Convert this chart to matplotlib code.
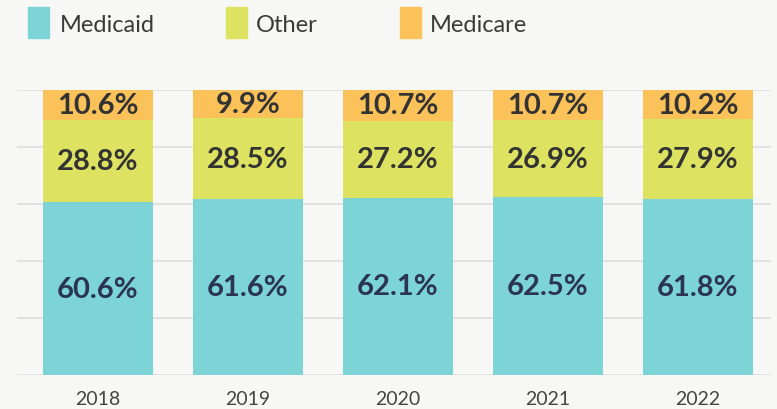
import matplotlib.pyplot as plt
from matplotlib.patches import Rectangle

years = ["2018", "2019", "2020", "2021", "2022"]
medicaid = [60.6, 61.6, 62.1, 62.5, 61.8]
other = [28.8, 28.5, 27.2, 26.9, 27.9]
medicare = [10.6, 9.9, 10.7, 10.7, 10.2]

series = ["Medicaid", "Other", "Medicare"]
colors = ["#7dd4d6", "#dde361", "#fcc25a"]
text_colors = ["#2b3452", "#333333", "#333333"]

plt.rcParams['font.family'] = ['Lato', 'DejaVu Sans']
bg = "#f7f7f5"

fig = plt.figure(figsize=(7.77, 4.10), dpi=100, facecolor=bg)
ax = fig.add_axes([0.022, 0.083, 0.970, 0.695])
ax.set_facecolor(bg)

x = list(range(len(years)))
bottoms = [0.0] * len(years)
for vals, col, tcol in zip([medicaid, other, medicare], colors, text_colors):
    bars = ax.bar(x, vals, width=0.733, bottom=bottoms, color=col, zorder=2)
    for b, v, bt in zip(bars, vals, bottoms):
        ax.text(b.get_x() + b.get_width() / 2, bt + v / 2, f"{v}%",
                ha='center', va='center', fontsize=21, fontweight='bold',
                color=tcol, zorder=3)
    bottoms = [bt + v for bt, v in zip(bottoms, vals)]

ax.set_xlim(-0.54, 4.487)
ax.set_ylim(0, 100)
ax.set_yticks(range(0, 101, 20))
ax.set_yticklabels([])
ax.set_xticks(x)
ax.set_xticklabels(years, fontsize=14, color="#444444")
ax.tick_params(axis='both', length=0, pad=11)
ax.grid(axis='y', color="#dddddd", linewidth=1.2, zorder=0)
for s in ['top', 'bottom', 'left', 'right']:
    ax.spines[s].set_visible(False)

# legend drawn by hand
sq_x = [28, 226, 400]
tx_x = [60, 256, 430]
for name, col, sx, tx in zip(series, colors, sq_x, tx_x):
    fig.add_artist(Rectangle((sx / 777, 1 - 39 / 410), 21 / 777, 31 / 410,
                             transform=fig.transFigure, color=col))
    fig.text(tx / 777, 1 - 25 / 410, name, ha='left', va='center',
             fontsize=17, color="#3a3a3a")

plt.savefig('out.png', dpi=100, facecolor=bg)
